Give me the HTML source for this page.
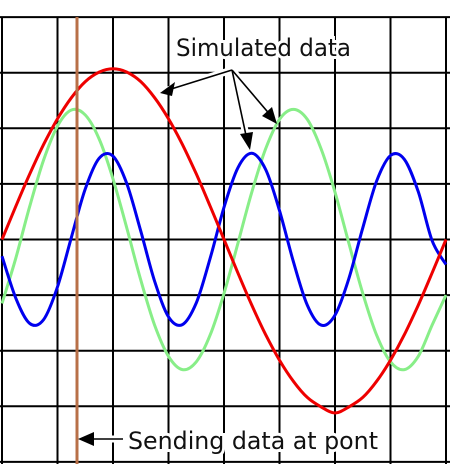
<!DOCTYPE html>
<html><head><meta charset="utf-8"><style>
html,body{margin:0;padding:0;background:#fff;}
svg{display:block;}
text{font-family:"DejaVu Sans","Liberation Sans",sans-serif;}
</style></head><body>
<svg id="chart" width="450" height="464" viewBox="0 0 450 464" xmlns="http://www.w3.org/2000/svg">
<rect x="0" y="0" width="450" height="464" fill="#fff"/>
<g id="grid"></g>
<g id="series"></g>
<line x1="77" y1="17" x2="77" y2="464" stroke="#b87048" stroke-width="3"/>
<g id="annot">
  <g stroke="#fff" stroke-width="7" fill="none" stroke-linecap="round">
    <line x1="232" y1="70" x2="168" y2="90"/>
    <line x1="232" y1="70" x2="247" y2="140"/>
    <line x1="232" y1="70" x2="272" y2="117"/>
    <line x1="123" y1="439" x2="85" y2="439"/>
  </g>
  <g stroke="#000" stroke-width="1.6" fill="none">
    <line x1="232" y1="70" x2="168" y2="90"/>
    <line x1="232" y1="70" x2="247" y2="140"/>
    <line x1="232" y1="70" x2="272" y2="117"/>
    <line x1="123" y1="439" x2="88" y2="439"/>
  </g>
  <g fill="#000">
    <polygon points="160,93 175,82 172,96"/>
    <polygon points="250,150 240,134 253,132"/>
    <polygon points="277,124 262,116 272,107"/>
    <polygon points="78,439 94,432 94,446"/>
  </g>
  <text x="176" y="56" font-size="24" textLength="175" lengthAdjust="spacingAndGlyphs" fill="#111" stroke="#fff" stroke-width="6" paint-order="stroke">Simulated data</text>
  <text x="128" y="449" font-size="24" textLength="250" lengthAdjust="spacingAndGlyphs" fill="#111" stroke="#fff" stroke-width="6" paint-order="stroke">Sending data at pont</text>
</g>
</svg>
<script>
const xStep = 0.25;
const redValues = [0,0.60,1.18,1.71,2.17,2.55,2.84,3.01,3.07,3.01,2.84,2.55,2.17,1.71,1.18,0.60,0,-0.60,-1.18,-1.71,-2.17,-2.55,-2.84,-3.01,-3.12,-3.01,-2.84,-2.55,-2.17,-1.71,-1.18,-0.60,0];
const greenValues = [-1.15,-0.33,0.60,1.43,2.04,2.33,2.24,1.81,1.09,0.20,-0.73,-1.54,-2.10,-2.34,-2.20,-1.72,-0.97,-0.07,0.85,1.63,2.16,2.34,2.16,1.63,0.85,-0.07,-0.97,-1.72,-2.20,-2.34,-2.10,-1.54,-1.0];
const blueValues = [-0.30,-1.06,-1.51,-1.44,-0.85,0.04,0.91,1.46,1.50,1.00,0.15,-0.75,-1.39,-1.53,-1.14,-0.34,0.58,1.29,1.55,1.26,0.52,-0.40,-1.18,-1.54,-1.36,-0.70,0.21,1.05,1.51,1.44,0.86,-0.02,-0.45];

const NS = "http://www.w3.org/2000/svg";
function xScale(u){ return 2 + u*55.5; }
function yScale(v){ return 239.5 - v*55.6; }

const grid = document.getElementById('grid');
for (let i=0;i<=8;i++){
  const l = document.createElementNS(NS,'line');
  const x = xScale(i);
  l.setAttribute('x1',x); l.setAttribute('x2',x); l.setAttribute('y1',17); l.setAttribute('y2',464);
  l.setAttribute('stroke','#000'); l.setAttribute('stroke-width','2');
  
  
  grid.appendChild(l);
}
for (let j=-4;j<=4;j++){
  const l = document.createElementNS(NS,'line');
  const y = yScale(j);
  l.setAttribute('x1',0); l.setAttribute('x2',450); l.setAttribute('y1',y); l.setAttribute('y2',y);
  l.setAttribute('stroke','#000'); l.setAttribute('stroke-width','2');
  
  
  grid.appendChild(l);
}

function pathFor(vals){
  const p = vals.map((v,i)=>[xScale(i*xStep), yScale(v)]);
  let d = 'M'+p[0][0].toFixed(1)+','+p[0][1].toFixed(1);
  for (let i=0;i<p.length-1;i++){
    const p0=p[Math.max(0,i-1)], p1=p[i], p2=p[i+1], p3=p[Math.min(p.length-1,i+2)];
    const c1=[p1[0]+(p2[0]-p0[0])/6, p1[1]+(p2[1]-p0[1])/6];
    const c2=[p2[0]-(p3[0]-p1[0])/6, p2[1]-(p3[1]-p1[1])/6];
    d+=' C'+c1[0].toFixed(1)+','+c1[1].toFixed(1)+' '+c2[0].toFixed(1)+','+c2[1].toFixed(1)+' '+p2[0].toFixed(1)+','+p2[1].toFixed(1);
  }
  return d;
}
const series = document.getElementById('series');
function addSeries(vals,color,name){
  const path = document.createElementNS(NS,'path');
  path.setAttribute('d',pathFor(vals));
  path.setAttribute('fill','none');
  path.setAttribute('stroke',color);
  path.setAttribute('stroke-width','3');
  
  
  series.appendChild(path);
}
addSeries(greenValues,'#88ee88','green-wave');
addSeries(blueValues,'#0000ee','blue-wave');
addSeries(redValues,'#ee0000','red-wave');
</script>
</body></html>
